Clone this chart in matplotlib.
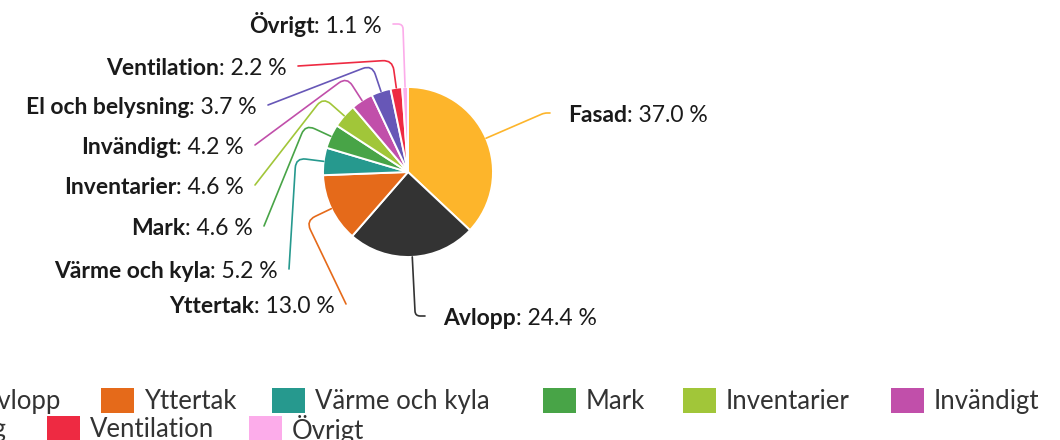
import matplotlib
matplotlib.use('Agg')
import matplotlib.pyplot as plt
from matplotlib.path import Path
from matplotlib.patches import PathPatch, Rectangle
import numpy as np

# ── data ─────────────────────────────────────────────────────────
labels = ['Fasad', 'Avlopp', 'Yttertak', 'Värme och kyla', 'Mark',
          'Inventarier', 'Invändigt', 'El och belysning', 'Ventilation', 'Övrigt']
values = [37.0, 24.4, 13.0, 5.2, 4.6, 4.6, 4.2, 3.7, 2.2, 1.1]
colors = ['#FDB52B', '#333333', '#E56A1A', '#26998E', '#48A447',
          '#A1C639', '#C14FAA', '#6757B7', '#EE2A42', '#FCACEA']

# ── layout (pixels, y from top) ──────────────────────────────────
W, H = 1060, 440
CX, CY, R = 408, 172, 85
BREAK = 28           # radial offset of connector bend
# connector end next to each label
LBL_ANCHOR = [(550, 113), (425, 316), (346, 304), (289, 269), (264, 226),
              (255, 185), (255, 145), (268, 105), (298, 66), (393, 24)]
# legend square left edge and row
LEG_POS = [(-215, 0), (-62, 0), (101, 0), (272, 0), (543, 0), (683, 0),
           (891, 0), (-220, 1), (47, 1), (249, 1)]
LEG_ROW_Y = [400, 428]

FONT = 'Lato'
TXT = '#1a1a1a'
LBL_FS = 16.5
LEG_FS = 18.5

fig = plt.figure(figsize=(W / 100, H / 100), dpi=100)
ax = fig.add_axes([0, 0, 1, 1])

wedges, _ = ax.pie(values, colors=colors, startangle=90, counterclock=False,
                   center=(CX, H - CY), radius=R,
                   wedgeprops=dict(edgecolor='white', linewidth=1.4))
ax.set_xlim(0, W)
ax.set_ylim(0, H)
ax.set_aspect('auto')
ax.axis('off')


def rounded(pts, rad=10):
    pts = [np.asarray(p, float) for p in pts]
    verts, codes = [pts[0]], [Path.MOVETO]
    for i in range(1, len(pts) - 1):
        a, q, c = pts[i - 1], pts[i], pts[i + 1]
        v1, v2 = a - q, c - q
        l1, l2 = np.hypot(*v1), np.hypot(*v2)
        d = min(rad, l1 / 2, l2 / 2)
        verts += [q + v1 / l1 * d, q, q + v2 / l2 * d]
        codes += [Path.LINETO, Path.CURVE3, Path.CURVE3]
    verts.append(pts[-1])
    codes.append(Path.LINETO)
    return Path(verts, codes)


for w, lab, val, col, (lx, ly) in zip(wedges, labels, values, colors, LBL_ANCHOR):
    ang = np.radians((w.theta1 + w.theta2) / 2)
    c, s = np.cos(ang), np.sin(ang)
    cx, cy = CX, H - CY
    touch = (cx + R * c, cy + R * s)
    brk = (cx + (R + BREAK) * c, cy + (R + BREAK) * s)
    ly_d = H - ly
    right = lx > CX
    pts = [(lx, ly_d)]
    if abs(s) > 1e-6:
        crook = cx + (ly_d - cy) * c / s
        if (right and brk[0] <= crook <= lx) or (not right and lx <= crook <= brk[0]):
            pts.append((crook, ly_d))
    pts += [brk, touch]
    ax.add_patch(PathPatch(rounded(pts), fc='none', ec=col, lw=1.2,
                           capstyle='round', zorder=1))

    ty = H - ly - 2
    val_txt = f': {val:.1f} %'
    if right:
        t1 = ax.text(lx + 18, ty, lab, ha='left', va='center', fontsize=LBL_FS,
                     fontweight='bold', family=FONT, color=TXT)
        ax.annotate(val_txt, xy=(1, 0), xycoords=t1, ha='left', va='bottom',
                    fontsize=LBL_FS, family=FONT, color=TXT)
    else:
        t1 = ax.text(lx - 11, ty, val_txt, ha='right', va='center', fontsize=LBL_FS,
                     family=FONT, color=TXT)
        ax.annotate(lab, xy=(0, 0), xycoords=t1, ha='right', va='bottom',
                    fontsize=LBL_FS, fontweight='bold', family=FONT, color=TXT)

# ── legend (wider than the canvas, clipped like the original) ────
for lab, col, (sx, row) in zip(labels, colors, LEG_POS):
    yc = H - LEG_ROW_Y[row]
    ax.add_patch(Rectangle((sx, yc - 12.5), 33, 25, fc=col, ec='none',
                           clip_on=True))
    ax.text(sx + 43, yc - 1, lab, ha='left', va='center', fontsize=LEG_FS,
            family=FONT, color='#333333')

fig.savefig('out.png', dpi=100, facecolor='white')
